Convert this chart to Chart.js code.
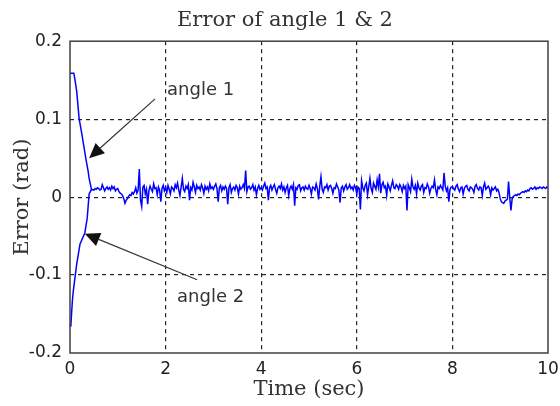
<!DOCTYPE html>
<html>
<head>
<meta charset="utf-8">
<title>Error of angle 1 & 2</title>
<script src="https://cdn.jsdelivr.net/npm/chart.js@4.4.1/dist/chart.umd.min.js"></script>
<style>
  html, body { margin: 0; padding: 0; background: #fff; }
  #wrap { width: 560px; height: 406px; }
</style>
</head>
<body>
<div id="wrap"><canvas id="chart" width="560" height="406"></canvas></div>
<script>
// ── Data ──
// transient part (time in sec, error in rad)
const angle1Time = [0, 0.08, 0.10, 0.14, 0.19, 0.25, 0.33, 0.38, 0.40, 0.45];
const angle1Err  = [0.159, 0.159, 0.152, 0.136, 0.101, 0.080, 0.050, 0.033, 0.024, 0.010];
const angle2Time = [0, 0.02, 0.05, 0.07, 0.14, 0.21, 0.31, 0.36, 0.40, 0.45];
const angle2Err  = [-0.165, -0.162, -0.133, -0.120, -0.086, -0.060, -0.046, -0.027, 0.004, 0.010];

// steady-state error after convergence, sampled every 0.025 s from t = 0.5
const steadyStart = 0.5;
const steadyStep = 0.025;
const steadyErr = [
  // 0.5 .. 0.975
  0.009, 0.011, 0.010, 0.012, 0.011, 0.009, 0.010, 0.016, 0.012, 0.008, 0.011, 0.013, 0.010, 0.012, 0.009, 0.014, 0.011, 0.013, 0.008, 0.010,
  // 1 s
  0.011, 0.007, 0.005, 0.004, 0.002, -0.002, -0.008, -0.004, -0.002, 0.001, 0.003, 0.002, 0.006, 0.004, 0.007, 0.012, 0.005, 0.009, 0.036, -0.004,
  -0.012, 0.013, 0.015, 0.004, 0.010, -0.009, 0.008, 0.014, 0.010, 0.007, 0.017, 0.011, 0.012, 0.003, 0.013, 0.009, -0.006, 0.011, 0.015, 0.008,
  // 2 s
  0.012, 0.006, 0.015, 0.010, 0.004, 0.013, 0.011, 0.008, 0.016, 0.012, 0.018, 0.009, 0.002, 0.013, 0.024, 0.010, 0.007, 0.014, 0.011, 0.016,
  -0.004, 0.012, 0.009, 0.019, 0.013, 0.006, 0.015, 0.011, 0.013, 0.009, 0.016, 0.012, 0.005, 0.014, 0.010, 0.013, 0.008, 0.017, 0.011, 0.013,
  // 3 s
  0.010, 0.014, 0.017, 0.011, -0.006, 0.012, 0.015, 0.008, 0.013, 0.010, 0.014, 0.011, -0.009, 0.012, 0.016, 0.006, 0.011, 0.013, 0.009, 0.015,
  0.012, 0.004, 0.014, 0.010, 0.012, 0.016, 0.011, 0.034, 0.007, 0.013, 0.014, 0.010, 0.012, 0.016, 0.009, 0.013, 0.003, 0.011, 0.015, 0.010,
  // 4 s
  0.012, 0.009, 0.014, 0.018, 0.011, 0.013, -0.004, 0.012, 0.015, 0.009, 0.013, 0.016, 0.010, 0.005, 0.012, 0.014, 0.011, 0.017, 0.009, 0.013,
  0.006, 0.012, 0.015, 0.002, 0.011, 0.014, 0.010, 0.016, -0.011, 0.012, 0.010, 0.015, 0.016, 0.008, 0.012, 0.013, 0.009, 0.014, 0.011, 0.010,
  // 5 s
  0.015, 0.011, 0.004, 0.013, 0.012, 0.009, 0.017, 0.011, -0.003, 0.014, 0.026, 0.010, 0.006, 0.013, 0.012, 0.016, 0.009, 0.014, 0.015, 0.011,
  0.005, 0.012, 0.011, 0.017, 0.013, 0.009, -0.007, 0.012, 0.014, 0.008, 0.013, 0.016, 0.010, 0.012, 0.016, 0.011, 0.013, 0.009, 0.015, 0.012,
  // 6 s
  0.004, 0.013, 0.011, -0.016, 0.021, 0.012, 0.008, 0.015, 0.018, 0.003, 0.013, 0.024, 0.011, 0.006, 0.018, 0.014, 0.010, 0.022, 0.013, 0.030,
  0.005, 0.016, 0.019, 0.012, 0.014, 0.002, 0.017, 0.013, 0.008, 0.015, 0.021, 0.012, 0.011, 0.016, 0.014, 0.010, 0.016, 0.013, 0.007, 0.015,
  // 7 s
  0.011, 0.014, -0.017, 0.016, 0.012, 0.007, 0.023, 0.013, 0.010, 0.015, 0.004, 0.018, 0.012, 0.009, 0.014, 0.016, 0.006, 0.012, 0.011, 0.017,
  0.013, 0.005, 0.011, 0.014, 0.012, 0.022, 0.010, 0.003, 0.013, 0.011, 0.015, 0.012, 0.009, 0.031, 0.014, 0.008, 0.012, -0.006, 0.010, 0.013,
  // 8 s
  0.013, 0.011, 0.009, 0.014, 0.016, 0.010, 0.007, 0.012, 0.013, 0.004, 0.011, 0.014, 0.015, 0.010, 0.008, 0.013, 0.012, 0.010, 0.006, 0.014,
  0.016, 0.011, 0.009, 0.013, 0.012, 0.002, 0.013, 0.018, 0.010, 0.012, 0.014, 0.011, 0.003, 0.012, 0.009, 0.011, 0.013, 0.008, 0.010, 0.006,
  // 9 s
  -0.002, -0.006, -0.007, -0.008, -0.005, -0.004, -0.003, 0.020, -0.001, -0.017, -0.002, 0.001, 0.002, 0.003, 0.002, 0.004, 0.003, 0.005, 0.006, 0.007,
  0.006, 0.008, 0.007, 0.009, 0.008, 0.011, 0.012, 0.010, 0.011, 0.013, 0.010, 0.012, 0.011, 0.013, 0.012, 0.011, 0.013, 0.012, 0.011, 0.013,
  // 10 s
  0.012
];

const xTickLabels = ['0', '2', '4', '6', '8', '10'];
const yTickLabels = ['-0.2', '-0.1', '0', '0.1', '0.2'];

// annotation labels and arrows: [text, label x, label y, arrow from x, from y, tip x, tip y] in data units
const notes = [
  ['angle 1', 2.03, 0.137, 1.78, 0.126, 0.40, 0.050],
  ['angle 2', 2.24, -0.128, 2.66, -0.106, 0.31, -0.047]
];

const serif = '"DejaVu Serif", "Liberation Serif", serif';
const sans = '"DejaVu Sans", "Liberation Sans", sans-serif';

// ── build points ──
const angle1Pts = angle1Time.map((t, i) => ({ x: t, y: angle1Err[i] }))
  .concat(steadyErr.map((v, i) => ({ x: steadyStart + i * steadyStep, y: v })));
const angle2Pts = angle2Time.map((t, i) => ({ x: t, y: angle2Err[i] }));

// ── frame + arrows drawn on top ──
const overlay = {
  id: 'overlay',
  afterDatasetsDraw(chart) {
    const { ctx, chartArea: a, scales: { x, y } } = chart;
    ctx.save();
    ctx.strokeStyle = '#404040';
    ctx.lineWidth = 1.5;
    ctx.strokeRect(a.left, a.top, a.right - a.left, a.bottom - a.top);

    notes.forEach(([text, lx, ly, fx, fy, tx, ty]) => {
      const x0 = x.getPixelForValue(fx), y0 = y.getPixelForValue(fy);
      const x1 = x.getPixelForValue(tx), y1 = y.getPixelForValue(ty);
      const ang = Math.atan2(y1 - y0, x1 - x0);
      const head = 15, half = 7;
      ctx.strokeStyle = '#3a3a3a';
      ctx.lineWidth = 1.3;
      ctx.beginPath();
      ctx.moveTo(x0, y0);
      ctx.lineTo(x1 - head * Math.cos(ang), y1 - head * Math.sin(ang));
      ctx.stroke();
      ctx.fillStyle = '#111';
      ctx.beginPath();
      ctx.moveTo(x1, y1);
      ctx.lineTo(x1 - head * Math.cos(ang) + half * Math.sin(ang), y1 - head * Math.sin(ang) - half * Math.cos(ang));
      ctx.lineTo(x1 - head * Math.cos(ang) - half * Math.sin(ang), y1 - head * Math.sin(ang) + half * Math.cos(ang));
      ctx.closePath();
      ctx.fill();

      ctx.fillStyle = '#333';
      ctx.font = '18px ' + sans;
      ctx.textAlign = 'left';
      ctx.textBaseline = 'middle';
      ctx.fillText(text, x.getPixelForValue(lx), y.getPixelForValue(ly));
    });
    ctx.restore();
  }
};

const gridColor = ctx => (ctx.index === 0 || ctx.index === ctx.scale.ticks.length - 1) ? 'rgba(0,0,0,0)' : '#222';

new Chart(document.getElementById('chart'), {
  type: 'line',
  data: {
    datasets: [
      { label: 'angle 1', data: angle1Pts, borderColor: '#0000ff', borderWidth: 1.5, pointRadius: 0, tension: 0, fill: false },
      { label: 'angle 2', data: angle2Pts, borderColor: '#0000ff', borderWidth: 1.5, pointRadius: 0, tension: 0, fill: false }
    ]
  },
  options: {
    responsive: false,
    animation: false,
    devicePixelRatio: 1,
    layout: { padding: { left: 10, right: 0, top: 0, bottom: 0 } },
    plugins: {
      legend: { display: false },
      tooltip: { enabled: false },
      title: {
        display: true,
        text: 'Error of angle 1 & 2',
        color: '#333',
        font: { family: serif, size: 21, weight: 'normal' },
        padding: { top: 8, bottom: 8 }
      }
    },
    scales: {
      x: {
        type: 'linear',
        min: 0, max: 10,
        ticks: {
          stepSize: 2,
          color: '#222',
          padding: 6,
          maxRotation: 0,
          font: { family: sans, size: 17 },
          callback: (v, i) => xTickLabels[i]
        },
        grid: { color: gridColor, lineWidth: 1.2, drawTicks: false },
        border: { display: false, dash: [4, 4] },
        title: {
          display: true,
          text: 'Time (sec)',
          color: '#333',
          font: { family: serif, size: 21 },
          padding: { top: 0, bottom: 4 }
        },
        afterFit(s) { s.height = 53; s.paddingRight = 12; }
      },
      y: {
        type: 'linear',
        min: -0.2, max: 0.2,
        ticks: {
          stepSize: 0.1,
          color: '#222',
          padding: 8,
          font: { family: sans, size: 17 },
          callback: (v, i) => yTickLabels[i]
        },
        grid: { color: gridColor, lineWidth: 1.2, drawTicks: false },
        border: { display: false, dash: [4, 4] },
        title: {
          display: true,
          text: 'Error (rad)',
          color: '#333',
          font: { family: serif, size: 21 },
          padding: { top: 0, bottom: 0 }
        },
        afterFit(s) { s.width = 60; }
      }
    }
  },
  plugins: [overlay]
});
</script>
</body>
</html>
